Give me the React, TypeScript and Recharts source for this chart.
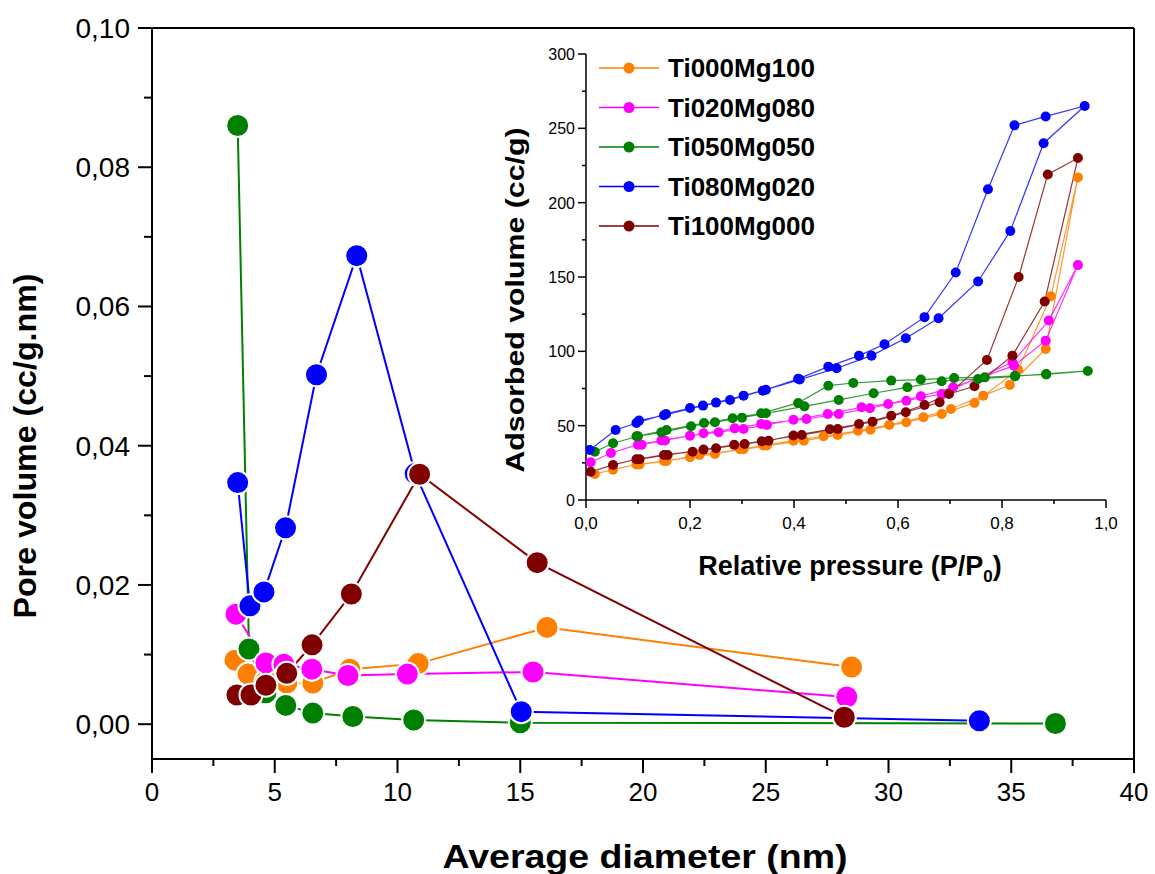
import React from 'react';
import { LineChart, Line, XAxis, YAxis, ReferenceLine, Legend } from 'recharts';

// sample names + colours (legend order)
const sampleNames = ['Ti000Mg100', 'Ti020Mg080', 'Ti050Mg050', 'Ti080Mg020', 'Ti100Mg000'];
const sampleColors = ['#FF8000', '#FF00FF', '#008000', '#0000FF', '#800000'];

// pore size distribution: [average diameter (nm), pore volume (cc/g.nm)]
const psdTi000Mg100 = [[3.38, 0.0092], [3.91, 0.0072], [4.64, 0.0062], [5.49, 0.0059], [6.55, 0.0059], [8.06, 0.0079], [10.84, 0.0087], [16.09, 0.0139], [28.5, 0.0082]];
const psdTi020Mg080 = [[3.42, 0.0158], [4.64, 0.0088], [5.37, 0.0086], [6.51, 0.0079], [7.98, 0.007], [10.4, 0.0072], [15.52, 0.0075], [28.3, 0.0039]];
const psdTi050Mg050 = [[3.49, 0.086], [3.95, 0.0108], [4.64, 0.0045], [5.45, 0.0027], [6.55, 0.0016], [8.18, 0.0011], [10.66, 0.0006], [15.0, 0.0002], [36.8, 0.0001]];
const psdTi080Mg020 = [[3.49, 0.0347], [3.99, 0.017], [4.56, 0.019], [5.44, 0.0282], [6.7, 0.0502], [8.34, 0.0673], [10.72, 0.036], [15.04, 0.0018], [33.7, 0.0005]];
const psdTi100Mg000 = [[3.46, 0.0042], [4.03, 0.0042], [4.64, 0.0056], [5.49, 0.0073], [6.52, 0.0114], [8.12, 0.0187], [10.9, 0.0359], [15.69, 0.0232], [28.2, 0.001]];

// N2 isotherms: [P/P0, adsorbed volume (cc/g)], adsorption branch then desorption branch
const isoTi000Mg100 = [
  [0.017, 17.5], [0.052, 20.4], [0.097, 23.9], [0.15, 26.2], [0.2, 28.7], [0.248, 31.0], [0.296, 34.1], [0.341, 36.6], [0.399, 39.9],
  [0.457, 42.9], [0.523, 46.6], [0.583, 50.5], [0.649, 55.7], [0.702, 61.2], [0.764, 70.2], [0.815, 77.4], [0.884, 101.6], [0.946, 217],
  [0.894, 137], [0.831, 87.7], [0.747, 65.3], [0.684, 57.9], [0.616, 52.3], [0.547, 47.3], [0.484, 43.7], [0.419, 39.9], [0.348, 36.6],
  [0.303, 34.1], [0.218, 30.3], [0.155, 26.2], [0.103, 23.9],
];
const isoTi020Mg080 = [
  [0.009, 25.4], [0.048, 31.6], [0.1, 37.2], [0.145, 40.0], [0.2, 43.3], [0.255, 45.6], [0.303, 47.8], [0.348, 50.5], [0.399, 54.0],
  [0.465, 57.9], [0.53, 62.4], [0.581, 64.6], [0.644, 69.8], [0.706, 75.8], [0.823, 90.4], [0.884, 107.2], [0.946, 158],
  [0.89, 120.7], [0.82, 92.6], [0.684, 71.3], [0.616, 66.8], [0.546, 61.7], [0.486, 57.9], [0.424, 54.5], [0.337, 51.2],
  [0.286, 48.2], [0.226, 44.9], [0.152, 40.0], [0.107, 37.2],
];
const isoTi050Mg050 = [
  [0.017, 32.5], [0.052, 38.2], [0.1, 42.9], [0.145, 45.5], [0.202, 49.6], [0.248, 52.3], [0.3, 55.4], [0.346, 58.3], [0.42, 63.0],
  [0.486, 67.3], [0.553, 71.8], [0.618, 75.8], [0.684, 79.9], [0.754, 81.4], [0.825, 83.2], [0.885, 84.8], [0.965, 86.8],
  [0.885, 84.5], [0.825, 83.5], [0.767, 82.5], [0.708, 82.1], [0.644, 81.0], [0.587, 80.3], [0.514, 78.7], [0.466, 76.9],
  [0.408, 65.3], [0.337, 58.3], [0.282, 55.0], [0.227, 51.8], [0.155, 47.1], [0.097, 42.9],
];
const isoTi080Mg020 = [
  [0.007, 33.6], [0.057, 47.1], [0.097, 51.8], [0.154, 57.9], [0.2, 61.9], [0.25, 65.5], [0.303, 70.2], [0.346, 74.2], [0.411, 81.0],
  [0.482, 88.6], [0.549, 97.1], [0.615, 108.8], [0.678, 122.3], [0.754, 147], [0.816, 181], [0.88, 240], [0.959, 265],
  [0.884, 258], [0.824, 252], [0.773, 209], [0.711, 153], [0.651, 123], [0.574, 104.8], [0.525, 97.1], [0.466, 89.7],
  [0.408, 81.5], [0.34, 73.5], [0.277, 67.3], [0.225, 63.5], [0.15, 57.0], [0.102, 53.4],
];
const isoTi100Mg000 = [
  [0.009, 19.0], [0.052, 23.6], [0.097, 27.4], [0.15, 30.3], [0.205, 32.5], [0.25, 34.8], [0.305, 37.7], [0.351, 39.9], [0.399, 43.4],
  [0.469, 47.6], [0.525, 51.1], [0.587, 56.7], [0.651, 63.9], [0.698, 71.3], [0.747, 76.5], [0.82, 97.1], [0.882, 133.5], [0.946, 230],
  [0.888, 219], [0.832, 150], [0.771, 94.2], [0.68, 65.7], [0.615, 59.0], [0.551, 52.7], [0.484, 47.8], [0.415, 43.7], [0.338, 39.5],
  [0.285, 37.1], [0.226, 33.9], [0.157, 30.3], [0.103, 27.4],
];

// tick values
const diameterTicks = [0, 2.5, 5, 7.5, 10, 12.5, 15, 17.5, 20, 22.5, 25, 27.5, 30, 32.5, 35, 37.5, 40];
const poreTicks = [0, 0.01, 0.02, 0.03, 0.04, 0.05, 0.06, 0.07, 0.08, 0.09, 0.1];
const pressureTicks = [0, 0.1, 0.2, 0.3, 0.4, 0.5, 0.6, 0.7, 0.8, 0.9, 1];
const adsorbedTicks = [0, 25, 50, 75, 100, 125, 150, 175, 200, 225, 250, 275, 300];

const FONT = "'Liberation Sans', Arial, Helvetica, sans-serif";

const toPts = (arr: number[][]) => arr.map(([x, y]) => ({ x, y }));
const comma = (v: number, d: number) => v.toFixed(d).replace('.', ',');

const psdSeries = [psdTi000Mg100, psdTi020Mg080, psdTi050Mg050, psdTi080Mg020, psdTi100Mg000];
const isoSeries = [isoTi000Mg100, isoTi020Mg080, isoTi050Mg050, isoTi080Mg020, isoTi100Mg000];

// which one sits on top
const mainOrder = [0, 2, 1, 3, 4];
const insetOrder = [0, 1, 4, 2, 3];

const MainYTick = ({ x, y, payload }: any) => {
  const major = Math.round(payload.value * 100) % 2 === 0;
  return (
    <g>
      <line x1={x - (major ? 14 : 8)} x2={x} y1={y} y2={y} stroke="#000" strokeWidth={2} />
      {major && (
        <text x={x - 22} y={y + 10} textAnchor="end" fontSize={28} fontFamily={FONT} fill="#000">
          {comma(payload.value, 2)}
        </text>
      )}
    </g>
  );
};

const MainXTick = ({ x, y, payload }: any) => {
  const major = payload.value % 5 === 0;
  return (
    <g>
      <line x1={x} x2={x} y1={y} y2={y + (major ? 14 : 7)} stroke="#000" strokeWidth={2} />
      {major && (
        <text x={x} y={y + 42} textAnchor="middle" fontSize={26} fontFamily={FONT} fill="#000">
          {payload.value}
        </text>
      )}
    </g>
  );
};

const InsetYTick = ({ x, y, payload }: any) => {
  const major = payload.value % 50 === 0;
  return (
    <g>
      <line x1={x - (major ? 8 : 4)} x2={x} y1={y} y2={y} stroke="#000" strokeWidth={1.5} />
      {major && (
        <text x={x - 11} y={y + 6} textAnchor="end" fontSize={16} fontFamily={FONT} fill="#000">
          {payload.value}
        </text>
      )}
    </g>
  );
};

const InsetXTick = ({ x, y, payload }: any) => {
  const major = Math.round(payload.value * 10) % 2 === 0;
  return (
    <g>
      <line x1={x} x2={x} y1={y} y2={y + (major ? 8 : 4)} stroke="#000" strokeWidth={1.5} />
      {major && (
        <text x={x} y={y + 29} textAnchor="middle" fontSize={17} fontFamily={FONT} fill="#000">
          {comma(payload.value, 1)}
        </text>
      )}
    </g>
  );
};

const MainXTitle = ({ viewBox }: any) => (
  <text x={viewBox.x + viewBox.width / 2 + 2} y={viewBox.y + 109} textAnchor="middle" fontSize={34}
    fontWeight="bold" fontFamily={FONT} textLength={405} lengthAdjust="spacingAndGlyphs">
    Average diameter (nm)
  </text>
);

const MainYTitle = () => (
  <text x={0} y={0} transform="translate(36,446) rotate(-90)" textAnchor="middle" fontSize={32}
    fontWeight="bold" fontFamily={FONT} textLength={345} lengthAdjust="spacingAndGlyphs">
    Pore volume (cc/g.nm)
  </text>
);

const InsetXTitle = ({ viewBox }: any) => (
  <text x={viewBox.x + 264} y={viewBox.y + 75} textAnchor="middle" fontSize={27} fontWeight="bold" fontFamily={FONT}>
    Relative pressure (P/P<tspan fontSize={17} dy={7}>0</tspan><tspan dy={-7}>)</tspan>
  </text>
);

const InsetYTitle = ({ viewBox }: any) => (
  <text x={0} y={0} transform={`translate(${viewBox.x + viewBox.width - 62},${viewBox.y + 246}) rotate(-90)`}
    textAnchor="middle" fontSize={26} fontWeight="bold" fontFamily={FONT} textLength={345} lengthAdjust="spacingAndGlyphs">
    Adsorbed volume (cc/g)
  </text>
);

const InsetLegend = () => (
  <svg width={240} height={190}>
    {sampleNames.map((name, i) => {
      const cy = 14 + i * 39.5;
      return (
        <g key={name}>
          <line x1={0} x2={60} y1={cy} y2={cy} stroke={sampleColors[i]} strokeWidth={1.5} />
          <circle cx={30} cy={cy} r={5.5} fill={sampleColors[i]} />
          <text x={69} y={cy + 9} fontSize={26} fontWeight="bold" fontFamily={FONT} fill="#000">
            {name}
          </text>
        </g>
      );
    })}
  </svg>
);

export default function App() {
  return (
    <div style={{ position: 'absolute', left: 0, top: 0, width: 1155, height: 874, background: '#fff' }}>
      <LineChart width={1155} height={874} margin={{ top: 28, right: 21, left: 0, bottom: 0 }}>
        <XAxis
          type="number"
          dataKey="x"
          domain={[0, 40]}
          ticks={diameterTicks}
          interval={0}
          allowDataOverflow
          height={115}
          tickSize={0}
          tickMargin={0}
          axisLine={{ stroke: '#000', strokeWidth: 2 }}
          tickLine={false}
          tick={<MainXTick />}
          label={<MainXTitle />}
        />
        <YAxis
          type="number"
          dataKey="y"
          domain={[-0.005, 0.1]}
          ticks={poreTicks}
          interval={0}
          allowDataOverflow
          width={152}
          tickSize={0}
          tickMargin={0}
          axisLine={{ stroke: '#000', strokeWidth: 2 }}
          tickLine={false}
          tick={<MainYTick />}
          label={<MainYTitle />}
        />
        <ReferenceLine y={0.1} stroke="#000" strokeWidth={2} />
        <ReferenceLine x={40} stroke="#000" strokeWidth={2} />
        {mainOrder.map((i) => (
          <Line
            key={sampleNames[i]}
            data={toPts(psdSeries[i])}
            dataKey="y"
            name={sampleNames[i]}
            stroke={sampleColors[i]}
            strokeWidth={2}
            dot={{ r: 11.5, fill: sampleColors[i], stroke: '#fff', strokeWidth: 2 }}
            activeDot={false}
            isAnimationActive={false}
          />
        ))}
      </LineChart>

      <div style={{ position: 'absolute', left: 440, top: 40 }}>
        <LineChart width={700} height={560} margin={{ top: 14, right: 34, left: 0, bottom: 0 }}>
          <XAxis
            type="number"
            dataKey="x"
            domain={[0, 1]}
            ticks={pressureTicks}
            interval={0}
            allowDataOverflow
            height={100}
            tickSize={0}
            tickMargin={0}
            axisLine={{ stroke: '#000', strokeWidth: 1.5 }}
            tickLine={false}
            tick={<InsetXTick />}
            label={<InsetXTitle />}
          />
          <YAxis
            type="number"
            dataKey="y"
            domain={[0, 300]}
            ticks={adsorbedTicks}
            interval={0}
            allowDataOverflow
            width={146}
            tickSize={0}
            tickMargin={0}
            axisLine={{ stroke: '#000', strokeWidth: 1.5 }}
            tickLine={false}
            tick={<InsetYTick />}
            label={<InsetYTitle />}
          />
          <Legend
            layout="vertical"
            align="center"
            verticalAlign="middle"
            content={<InsetLegend />}
            wrapperStyle={{ position: 'absolute', left: 159, top: 14, width: 240, height: 190 }}
          />
          {insetOrder.map((i) => (
            <Line
              key={sampleNames[i]}
              data={toPts(isoSeries[i])}
              dataKey="y"
              name={sampleNames[i]}
              stroke={sampleColors[i]}
              strokeWidth={1.2}
              strokeOpacity={0.8}
              dot={{ r: 5, fill: sampleColors[i], stroke: 'none', strokeWidth: 0 }}
              activeDot={false}
              isAnimationActive={false}
            />
          ))}
        </LineChart>
      </div>
    </div>
  );
}
